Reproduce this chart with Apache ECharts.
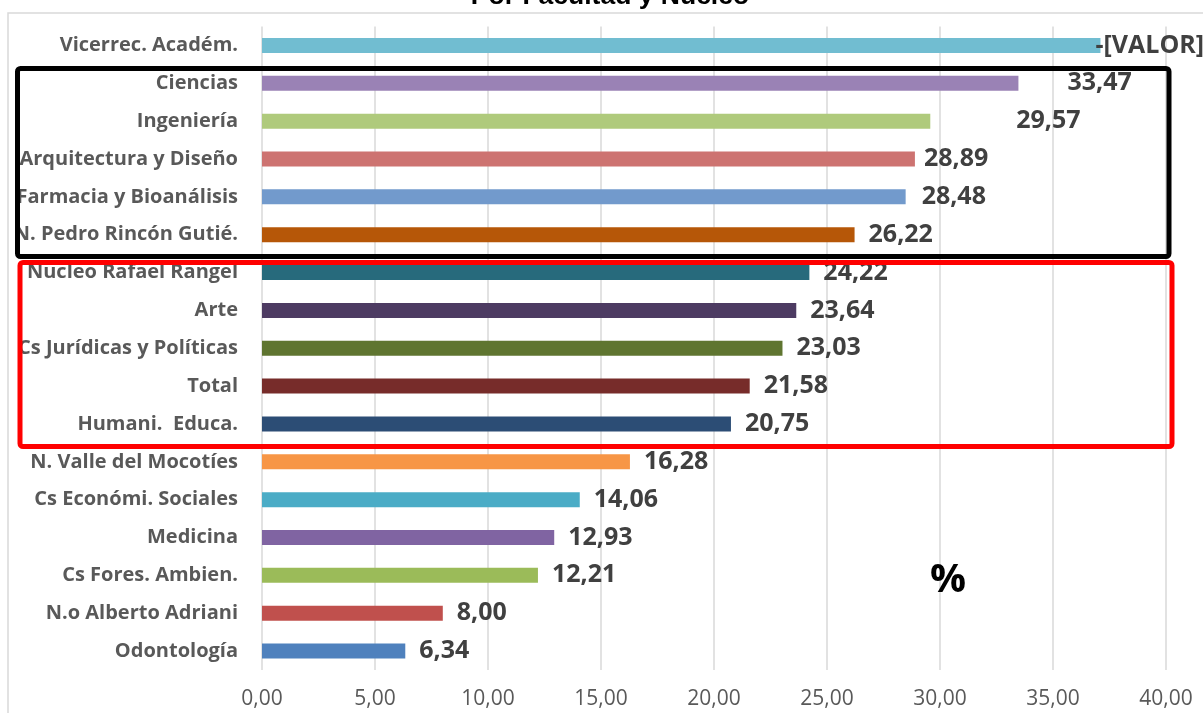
<!DOCTYPE html>
<html><head><meta charset="utf-8">
<script src="https://cdn.jsdelivr.net/npm/echarts@6/dist/echarts.min.js"></script>
<style>html,body{margin:0;padding:0;background:#fff}#c{width:1203px;height:713px}</style>
</head><body><div id="c"></div>
<script>
const titleText = 'Por Facultad y Nucleo';
const unitText = '%';
const categories = ['Vicerrec. Académ.', 'Ciencias', 'Ingeniería', 'Arquitectura y Diseño', 'Farmacia y Bioanálisis', 'N. Pedro Rincón Gutié.', 'Nucleo Rafael Rangel', 'Arte', 'Cs Jurídicas y Políticas', 'Total', 'Humani.  Educa.', 'N. Valle del Mocotíes', 'Cs Económi. Sociales', 'Medicina', 'Cs Fores. Ambien.', 'N.o Alberto Adriani', 'Odontología'];
const values = [37.10, 33.47, 29.57, 28.89, 28.48, 26.22, 24.22, 23.64, 23.03, 21.58, 20.75, 16.28, 14.06, 12.93, 12.21, 8.00, 6.34];
const valueLabels = ['-[VALOR]', null, null, null, null, null, null, null, null, null, null, null, null, null, null, null, null];
const colors = ['#71BDD1', '#9A82B5', '#AFCA7C', '#CD7371', '#729ACC', '#B65708', '#276A7C', '#4D3B62', '#5F7530', '#772C2A', '#2C4D75', '#F79646', '#4BACC6', '#8064A2', '#9BBB59', '#C0504D', '#4F81BD'];
const xMin = 0, xMax = 40, xStep = 5;

// label gap (px) to the bar end, style only
const labelGap = {'Vicerrec. Académ.': -5, 'Ciencias': 49, 'Ingeniería': 86, 'Arquitectura y Diseño': 9, 'Farmacia y Bioanálisis': 16};

const fmt = v => v.toFixed(2).replace('.', ',');
const chart = echarts.init(document.getElementById('c'), null, {renderer: 'canvas'});
const FONT = '"Open Sans", "Noto Sans", sans-serif';

const data = values.map((v, i) => ({
  value: v,
  itemStyle: {color: colors[i]},
  label: {distance: labelGap[categories[i]] !== undefined ? labelGap[categories[i]] : 14}
}));

chart.setOption({
  animation: false,
  grid: {left: 262, right: 37, top: 26.5, height: 643.5, containLabel: false},
  xAxis: {
    type: 'value', min: xMin, max: xMax, interval: xStep,
    axisLine: {show: false}, axisTick: {show: false},
    splitLine: {show: true, lineStyle: {color: '#D9D9D9', width: 1.5}},
    axisLabel: {formatter: v => fmt(v), color: '#595959', fontFamily: FONT, fontSize: 21, margin: 19}
  },
  yAxis: {
    type: 'category', data: categories, inverse: true,
    axisLine: {show: false}, axisTick: {show: false},
    axisLabel: {color: '#595959', fontFamily: FONT, fontSize: 20, fontWeight: 'bold', margin: 24}
  },
  series: [{
    type: 'bar', data: data, barWidth: 15,
    label: {
      show: true, position: 'right', color: '#404040', fontFamily: FONT, fontSize: 25, fontWeight: 'bold',
      formatter: p => valueLabels[p.dataIndex] !== null ? valueLabels[p.dataIndex] : fmt(p.value)
    }
  }],
  graphic: [
    {type: 'rect', z: 100, silent: true, shape: {x: 8, y: 13, width: 1210, height: 720},
     style: {fill: 'none', stroke: '#D9D9D9', lineWidth: 1.5}},
    {type: 'text', z: 100, x: 610, y: -3, style: {text: titleText, fill: '#000', font: 'bold 26.5px "Liberation Sans", Arial, sans-serif', align: 'center', verticalAlign: 'middle'}},
    {type: 'rect', z: 100, silent: true, shape: {x: 17.5, y: 68.5, width: 1151.5, height: 188, r: 3},
     style: {fill: 'none', stroke: '#000', lineWidth: 5}},
    {type: 'rect', z: 100, silent: true, shape: {x: 20, y: 262.5, width: 1152, height: 184, r: 3},
     style: {fill: 'none', stroke: '#FF0000', lineWidth: 5}},
    {type: 'text', z: 100, x: 948, y: 581, style: {text: unitText, fill: '#000', font: 'bold 40px "Open Sans", sans-serif', align: 'center', verticalAlign: 'middle'}}
  ]
});
</script></body></html>
